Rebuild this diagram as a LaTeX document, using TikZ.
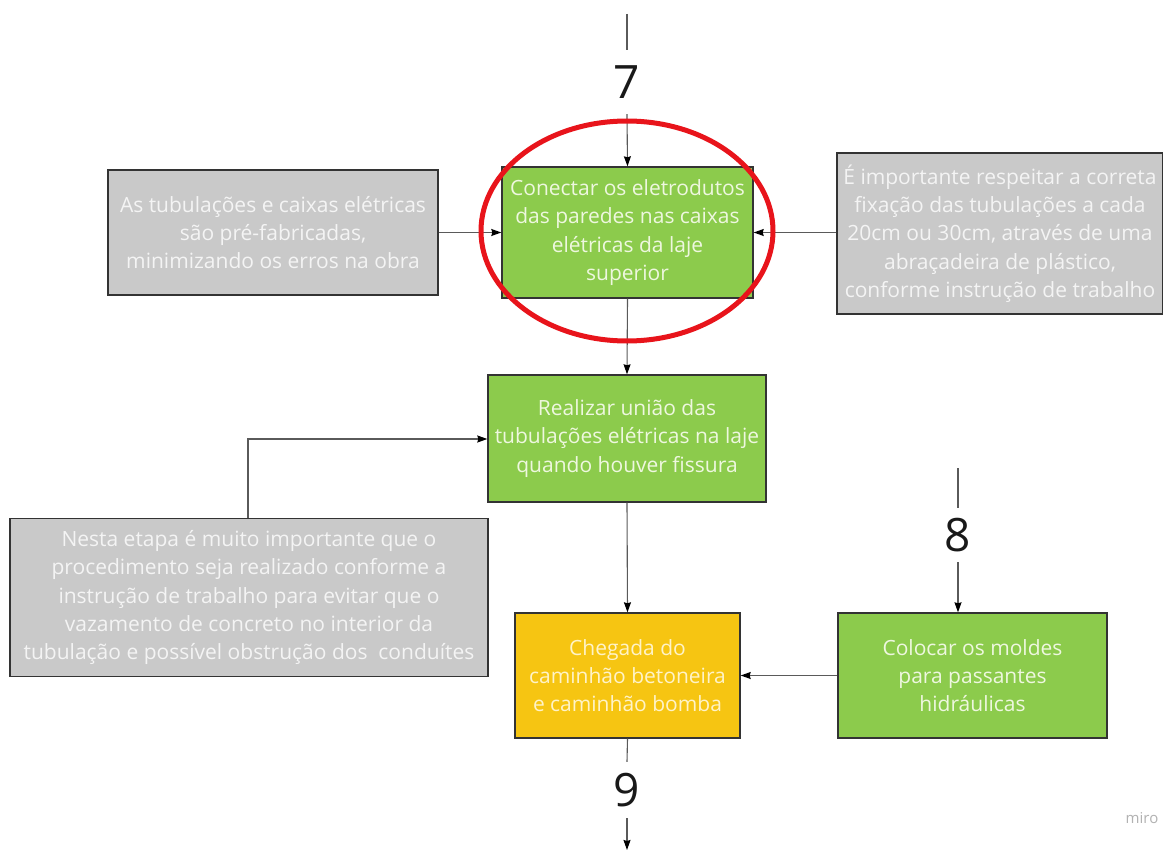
\documentclass[tikz,border=0pt]{standalone}
\usepackage{fontspec}
\setmainfont{Open Sans}
\usetikzlibrary{arrows.meta}
\definecolor{boxgreen}{HTML}{8CCB4C}
\definecolor{greentext}{HTML}{EEF7DF}
\definecolor{boxgray}{HTML}{C9C9C9}
\definecolor{graytext}{HTML}{F4F4F4}
\definecolor{boxyellow}{HTML}{F6C512}
\definecolor{yellowtext}{HTML}{FFF3C8}
\definecolor{linegray}{HTML}{5A5A5A}
\definecolor{ringred}{HTML}{E8141B}
\begin{document}
\begin{tikzpicture}[x=1pt,y=-1pt,
  boxbase/.style={draw=black!80,line width=1.4pt,rectangle,inner sep=0pt,align=center,
    font=\fontsize{21}{28.3}\selectfont},
  greenbox/.style={boxbase,fill=boxgreen,text=greentext},
  graybox/.style={boxbase,fill=boxgray,text=graytext},
  yellowbox/.style={boxbase,fill=boxyellow,text=yellowtext},
  numlabel/.style={inner sep=0pt,font=\fontsize{46}{46}\selectfont,text=black!90},
  link/.style={draw=linegray,line width=1.1pt,-{Stealth[length=10pt,width=7pt,inset=1pt,color=black]}},
  plainlink/.style={draw=linegray,line width=1.1pt}]
  \useasboundingbox[fill=white] (0,0) rectangle (1163,851);

  % main column of steps
  \node[greenbox,minimum width=251,minimum height=131] (conn) at (627.5,232.5)
    {Conectar os eletrodutos\\das paredes nas caixas\\elétricas da laje\\superior};
  \node[greenbox,minimum width=278,minimum height=127] (uniao) at (627,438.5)
    {Realizar união das\\tubulações elétricas na laje\\quando houver fissura};
  \node[yellowbox,minimum width=225,minimum height=125] (cheg) at (627.5,675.5)
    {Chegada do\\caminhão betoneira\\e caminhão bomba};
  \node[greenbox,minimum width=269,minimum height=125] (moldes) at (972.5,675.5)
    {Colocar os moldes\\para passantes\\hidráulicas};

  % side notes
  \node[graybox,minimum width=330,minimum height=125] (notaA) at (273,232.5)
    {As tubulações e caixas elétricas\\são pré-fabricadas,\\minimizando os erros na obra};
  \node[graybox,minimum width=326,minimum height=161] (notaB) at (1000,233.5)
    {É importante respeitar a correta\\fixação das tubulações a cada\\20cm ou 30cm, através de uma\\abraçadeira de plástico,\\conforme instrução de trabalho};
  \node[graybox,minimum width=478,minimum height=158] (notaC) at (249,597.5)
    {Nesta etapa é muito importante que o\\procedimento seja realizado conforme a\\instrução de trabalho para evitar que o\\vazamento de concreto no interior da\\tubulação e possível obstrução dos\ \ conduítes};

  % page connectors
  \node[numlabel,minimum height=64] (n7) at (627,82) {7};
  \node[numlabel,minimum height=54] (n8) at (958,535) {8};
  \node[numlabel,minimum height=56] (n9) at (627,790) {9};
  \coordinate (top7) at (627,14);
  \coordinate (top8) at (958,468);
  \coordinate (end9) at (627,850);
  \coordinate (bend) at (248,439);

  \draw[plainlink] (top7) -- (n7.north);
  \draw[link] (n7.south) -- (conn.north);
  \draw[plainlink] (top8) -- (n8.north);
  \draw[link] (n8.south) -- (moldes.north -| n8.south);
  \draw[plainlink] (cheg.south) -- (n9.north);
  \draw[link] (n9.south) -- (end9);

  \draw[link] (notaA.east) -- (conn.west);
  \draw[link] (notaB.west |- conn.east) -- (conn.east);
  \draw[link] (conn.south) -- (uniao.north);
  \draw[link] (notaC.north -| bend) -- (bend) -- (bend -| uniao.west);
  \draw[link] (uniao.south) -- (cheg.north);
  \draw[link] (moldes.west) -- (cheg.east);

  % highlight ring
  \draw[ringred,line width=5pt] (627,231) ellipse [x radius=146,y radius=110];

  % watermark
  \node[text=black!30,font=\fontsize{15}{15}\selectfont] (wm) at (1142,818) {miro};
\end{tikzpicture}
\end{document}
